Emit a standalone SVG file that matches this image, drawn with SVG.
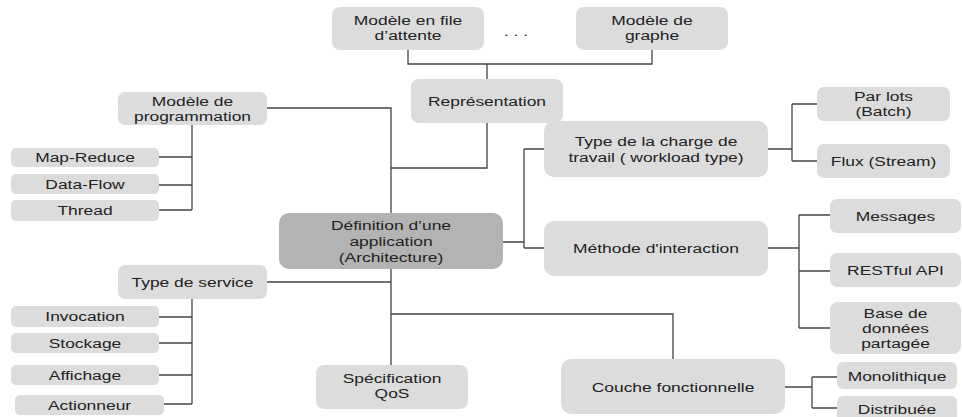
<svg xmlns="http://www.w3.org/2000/svg" width="962" height="417" viewBox="0 0 962 417">
  <style>
    .box { fill: #dcdcdc; }
    .main { fill: #b3b3b3; }
    .lbl { font-family: "Liberation Sans", Arial, sans-serif; font-size: 13.5px; fill: #222; text-anchor: middle; }
    .wire { fill: none; stroke: #444; stroke-width: 1.3; }
  </style>
  <rect width="962" height="417" fill="#ffffff"/>

  <!-- connectors -->
  <g id="connectors" class="wire">
    <path d="M408,50 V64 H652 V50"/>
    <path d="M487,64 V79"/>
    <path d="M487,123 V168 H391"/>
    <path d="M267,108 H391 V213"/>
    <path d="M192,125 V210 M159,157 H192 M159,185 H192 M159,210 H192"/>
    <path d="M391,269 V365 M267,282 H391 M391,314 H673 V359"/>
    <path d="M192,299 V404 M159,317 H192 M159,343 H192 M159,375 H192 M164,404 H192"/>
    <path d="M503,242 H524 M524,149 V248 M524,149 H544 M524,248 H544"/>
    <path d="M768,149 H792 M792,104 V161 M792,104 H817 M792,161 H817"/>
    <path d="M768,248 H799 M799,215 V328 M799,215 H830 M799,271 H830 M799,328 H830"/>
    <path d="M785,387 H812 M812,377 V408 M812,377 H837 M812,408 H837"/>
  </g>

  <!-- nodes -->
  <g id="file-attente">
    <rect class="box" x="332" y="7" width="152" height="43" rx="8"/>
    <text class="lbl" transform="translate(408,25) scale(1.29,1)">Modèle en file</text>
    <text class="lbl" transform="translate(408,40) scale(1.29,1)">d’attente</text>
  </g>
  <g id="ellipsis">
    <text class="lbl" transform="translate(516,36) scale(1.29,1)">. . .</text>
  </g>
  <g id="graphe">
    <rect class="box" x="576" y="7" width="152" height="43" rx="8"/>
    <text class="lbl" transform="translate(652,25) scale(1.29,1)">Modèle de</text>
    <text class="lbl" transform="translate(652,40) scale(1.29,1)">graphe</text>
  </g>
  <g id="representation">
    <rect class="box" x="411" y="79" width="152" height="44" rx="8"/>
    <text class="lbl" transform="translate(487,106) scale(1.29,1)">Représentation</text>
  </g>
  <g id="programmation">
    <rect class="box" x="118" y="92" width="149" height="33" rx="7"/>
    <text class="lbl" transform="translate(192.5,106) scale(1.29,1)">Modèle de</text>
    <text class="lbl" transform="translate(192.5,121) scale(1.29,1)">programmation</text>
  </g>
  <g id="map-reduce">
    <rect class="box" x="11" y="148" width="148" height="19" rx="5"/>
    <text class="lbl" transform="translate(85,162) scale(1.29,1)">Map-Reduce</text>
  </g>
  <g id="data-flow">
    <rect class="box" x="11" y="174" width="148" height="20" rx="5"/>
    <text class="lbl" transform="translate(85,189) scale(1.29,1)">Data-Flow</text>
  </g>
  <g id="thread">
    <rect class="box" x="11" y="200" width="148" height="21" rx="5"/>
    <text class="lbl" transform="translate(85,215) scale(1.29,1)">Thread</text>
  </g>
  <g id="charge">
    <rect class="box" x="544" y="121" width="224" height="56" rx="10"/>
    <text class="lbl" transform="translate(656,146) scale(1.29,1)">Type de la charge de</text>
    <text class="lbl" transform="translate(656,162) scale(1.29,1)">travail ( workload type)</text>
  </g>
  <g id="par-lots">
    <rect class="box" x="817" y="87" width="133" height="34" rx="7"/>
    <text class="lbl" transform="translate(883.5,101) scale(1.29,1)">Par lots</text>
    <text class="lbl" transform="translate(883.5,116) scale(1.29,1)">(Batch)</text>
  </g>
  <g id="flux">
    <rect class="box" x="817" y="144" width="133" height="34" rx="7"/>
    <text class="lbl" transform="translate(883.5,166) scale(1.29,1)">Flux (Stream)</text>
  </g>
  <g id="definition">
    <rect class="main" x="279" y="213" width="224" height="56" rx="10"/>
    <text class="lbl" transform="translate(391,230) scale(1.29,1)">Définition d’une</text>
    <text class="lbl" transform="translate(391,246) scale(1.29,1)">application</text>
    <text class="lbl" transform="translate(391,262) scale(1.29,1)">(Architecture)</text>
  </g>
  <g id="interaction">
    <rect class="box" x="544" y="221" width="224" height="55" rx="10"/>
    <text class="lbl" transform="translate(656,253) scale(1.29,1)">Méthode d'interaction</text>
  </g>
  <g id="messages">
    <rect class="box" x="830" y="199" width="131" height="34" rx="7"/>
    <text class="lbl" transform="translate(895.5,221) scale(1.29,1)">Messages</text>
  </g>
  <g id="restful">
    <rect class="box" x="830" y="253" width="131" height="34" rx="7"/>
    <text class="lbl" transform="translate(895.5,275) scale(1.29,1)">RESTful API</text>
  </g>
  <g id="base-donnees">
    <rect class="box" x="830" y="302" width="131" height="52" rx="8"/>
    <text class="lbl" transform="translate(895.5,318) scale(1.29,1)">Base de</text>
    <text class="lbl" transform="translate(895.5,333) scale(1.29,1)">données</text>
    <text class="lbl" transform="translate(895.5,348) scale(1.29,1)">partagée</text>
  </g>
  <g id="type-service">
    <rect class="box" x="118" y="265" width="149" height="34" rx="7"/>
    <text class="lbl" transform="translate(192.5,287) scale(1.29,1)">Type de service</text>
  </g>
  <g id="invocation">
    <rect class="box" x="11" y="306" width="148" height="21" rx="5"/>
    <text class="lbl" transform="translate(85,321) scale(1.29,1)">Invocation</text>
  </g>
  <g id="stockage">
    <rect class="box" x="11" y="333" width="148" height="20" rx="5"/>
    <text class="lbl" transform="translate(85,348) scale(1.29,1)">Stockage</text>
  </g>
  <g id="affichage">
    <rect class="box" x="11" y="365" width="148" height="20" rx="5"/>
    <text class="lbl" transform="translate(85,380) scale(1.29,1)">Affichage</text>
  </g>
  <g id="actionneur">
    <rect class="box" x="15" y="395" width="149" height="20" rx="5"/>
    <text class="lbl" transform="translate(89.5,410) scale(1.29,1)">Actionneur</text>
  </g>
  <g id="qos">
    <rect class="box" x="316" y="365" width="152" height="44" rx="8"/>
    <text class="lbl" transform="translate(392,383) scale(1.29,1)">Spécification</text>
    <text class="lbl" transform="translate(392,398) scale(1.29,1)">QoS</text>
  </g>
  <g id="couche">
    <rect class="box" x="561" y="359" width="224" height="55" rx="10"/>
    <text class="lbl" transform="translate(673,392) scale(1.29,1)">Couche fonctionnelle</text>
  </g>
  <g id="monolithique">
    <rect class="box" x="837" y="362" width="120" height="27" rx="6"/>
    <text class="lbl" transform="translate(897,381) scale(1.29,1)">Monolithique</text>
  </g>
  <g id="distribuee">
    <rect class="box" x="837" y="396" width="120" height="26" rx="6"/>
    <text class="lbl" transform="translate(897,414) scale(1.29,1)">Distribuée</text>
  </g>
</svg>
